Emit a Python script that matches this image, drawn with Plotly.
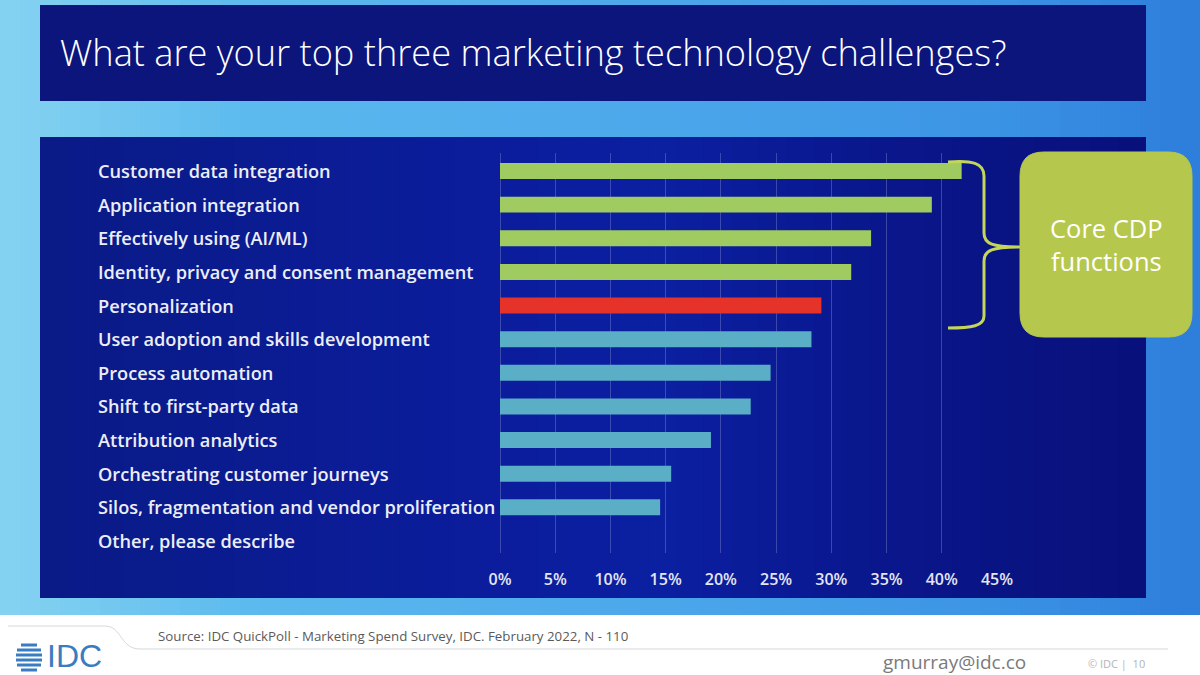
import plotly.graph_objects as go

# ---------------- data ----------------
categories = [
    "Customer data integration",
    "Application integration",
    "Effectively using (AI/ML)",
    "Identity, privacy and consent management",
    "Personalization",
    "User adoption and skills development",
    "Process automation",
    "Shift to first-party data",
    "Attribution analytics",
    "Orchestrating customer journeys",
    "Silos, fragmentation and vendor proliferation",
    "Other, please describe",
]
values = [41.8, 39.1, 33.6, 31.8, 29.1, 28.2, 24.5, 22.7, 19.1, 15.5, 14.5, 0.0]
groups = ["core", "core", "core", "core", "highlight",
          "other", "other", "other", "other", "other", "other", "other"]
tick_values = [0, 5, 10, 15, 20, 25, 30, 35, 40, 45]
tick_labels = ["0%", "5%", "10%", "15%", "20%", "25%", "30%", "35%", "40%", "45%"]

title_text = "What are your top three marketing technology challenges?"
box_text = "Core CDP<br>functions"
source_text = "Source: IDC QuickPoll - Marketing Spend Survey, IDC. February 2022, N - 110"
email_text = "gmurray@idc.co"
page_text = "© IDC |  10"

# ---------------- style ----------------
W, H = 1200, 675
group_colors = {"core": "#9fcb60", "highlight": "#e5332a", "other": "#5aaec6"}
bar_colors = [group_colors[g] for g in groups]


def px(x):
    return x / W


def py(y):
    return 1 - y / H


def path(cmds):
    out = []
    for c in cmds:
        if isinstance(c, str):
            out.append(c)
        else:
            out.append(f"{px(c[0]):.5f},{py(c[1]):.5f}")
    return " ".join(out)


def hexmix(c1, c2, t):
    a = [int(c1[i:i + 2], 16) for i in (1, 3, 5)]
    b = [int(c2[i:i + 2], 16) for i in (1, 3, 5)]
    m = [round(a[k] + (b[k] - a[k]) * t) for k in range(3)]
    return "#%02x%02x%02x" % tuple(m)


shapes = []
# slide background gradient (left light cyan -> right blue)
stops = [(0, "#86d3f1"), (250, "#5cbaee"), (700, "#4aa5ea"), (1000, "#3b93e4"), (1200, "#2d7ddb")]
n = 60
for i in range(n):
    x0 = W * i / n
    x1 = W * (i + 1) / n
    xm = (x0 + x1) / 2
    for j in range(len(stops) - 1):
        if stops[j][0] <= xm <= stops[j + 1][0]:
            t = (xm - stops[j][0]) / (stops[j + 1][0] - stops[j][0])
            col = hexmix(stops[j][1], stops[j + 1][1], t)
    shapes.append(dict(type="rect", xref="paper", yref="paper", x0=px(x0), x1=px(x1 + 1),
                       y0=0, y1=1, fillcolor=col, line_width=0, layer="below"))

# title box
shapes.append(dict(type="rect", xref="paper", yref="paper", x0=px(40), x1=px(1146),
                   y0=py(101), y1=py(5), fillcolor="#0b157c", line_width=0, layer="below"))

# chart panel with subtle horizontal gradient
pstops = [(40, "#0a1a86"), (400, "#0b1c98"), (650, "#0b1fa2"), (900, "#0a168a"), (1146, "#08107a")]
m = 40
for i in range(m):
    x0 = 40 + (1146 - 40) * i / m
    x1 = 40 + (1146 - 40) * (i + 1) / m
    xm = (x0 + x1) / 2
    for j in range(len(pstops) - 1):
        if pstops[j][0] <= xm <= pstops[j + 1][0]:
            t = (xm - pstops[j][0]) / (pstops[j + 1][0] - pstops[j][0])
            col = hexmix(pstops[j][1], pstops[j + 1][1], t)
    shapes.append(dict(type="rect", xref="paper", yref="paper", x0=px(x0), x1=px(min(x1 + 1, 1146)),
                       y0=py(598), y1=py(137), fillcolor=col, line_width=0, layer="below"))

# footer white band
shapes.append(dict(type="rect", xref="paper", yref="paper", x0=0, x1=1,
                   y0=0, y1=py(615), fillcolor="#ffffff", line_width=0, layer="below"))
# footer thin curved line
shapes.append(dict(type="path", xref="paper", yref="paper",
                   path=path(["M", (8, 626), "L", (105, 626), "C", (122, 626), (120, 649), (140, 649),
                              "L", (1168, 649)]),
                   line=dict(color="#d4d8dc", width=1), layer="below"))
# IDC logo stripes (globe)
for (yy, half) in [(645, 8), (650, 12), (655, 13), (660, 13), (665, 12), (670, 8)]:
    shapes.append(dict(type="line", xref="paper", yref="paper",
                       x0=px(29 - half), x1=px(29 + half), y0=py(yy), y1=py(yy),
                       line=dict(color="#3a7cc0", width=3), layer="above"))

# bracket
shapes.append(dict(type="path", xref="paper", yref="paper",
                   path=path(["M", (948, 162), "C", (972, 160), (984, 163), (984, 176),
                              "L", (984, 233), "C", (984, 244), (992, 247), (1022, 247),
                              "C", (992, 247), (984, 250), (984, 261),
                              "L", (984, 316), "C", (984, 326), (972, 328), (948, 328)]),
                   line=dict(color="#c3d65a", width=3), layer="above"))

# green rounded box
bx0, bx1, by0, by1, r = 1020, 1192, 152, 337, 24
shapes.append(dict(type="path", xref="paper", yref="paper",
                   path=path(["M", (bx0 + r, by0), "L", (bx1 - r, by0), "Q", (bx1, by0), (bx1, by0 + r),
                              "L", (bx1, by1 - r), "Q", (bx1, by1), (bx1 - r, by1),
                              "L", (bx0 + r, by1), "Q", (bx0, by1), (bx0, by1 - r),
                              "L", (bx0, by0 + r), "Q", (bx0, by0), (bx0 + r, by0), "Z"]),
                   fillcolor="#b5c84d", line=dict(color="#b5c84d", width=1), layer="above"))

fig = go.Figure()
fig.add_trace(go.Bar(
    x=values, y=categories, orientation="h",
    marker=dict(color=bar_colors, line_width=0),
    width=0.475, hoverinfo="x+y",
))

# axis geometry
x_left, x_right = 500, 997
y_top, y_bot = 153, 553
row_first, row_last = 171, 541
pitch = (row_last - row_first) / (len(categories) - 1)
r_top = -(row_first - y_top) / pitch
r_bot = (len(categories) - 1) + (y_bot - row_last) / pitch

fig.update_xaxes(
    domain=[px(x_left), px(x_right)], range=[0, 45], automargin=False,
    tickvals=tick_values, ticktext=tick_labels,
    showgrid=True, gridcolor="rgba(190,195,230,0.28)", gridwidth=1,
    zeroline=True, zerolinecolor="rgba(190,195,230,0.28)", zerolinewidth=1,
    ticks="outside", ticklen=12, tickcolor="rgba(0,0,0,0)",
    tickfont=dict(family="Open Sans", size=16, color="#e4e6f2", weight=600),
    showline=False, fixedrange=True,
)
fig.update_yaxes(
    domain=[py(y_bot), py(y_top)], automargin=False,
    categoryorder="array", categoryarray=categories,
    range=[r_bot, r_top],
    showticklabels=False, showgrid=False, zeroline=False, showline=False, fixedrange=True,
)

annotations = []
for c in categories:
    annotations.append(dict(xref="paper", yref="y", x=px(96), y=c, text=c, showarrow=False,
                            xanchor="left", yanchor="middle",
                            font=dict(family="Open Sans", size=18.2, color="#eceef6", weight=600)))

annotations += [
    dict(xref="paper", yref="paper", x=px(58), y=py(52), text=title_text, showarrow=False,
         xanchor="left", yanchor="middle",
         font=dict(family="Open Sans", size=36.2, color="#ffffff", weight=300)),
    dict(xref="paper", yref="paper", x=px(1106), y=py(245), text=box_text, showarrow=False,
         xanchor="center", yanchor="middle",
         font=dict(family="Open Sans", size=25.5, color="#ffffff")),
    dict(xref="paper", yref="paper", x=px(156), y=py(636), text=source_text, showarrow=False,
         xanchor="left", yanchor="middle",
         font=dict(family="Open Sans", size=13.3, color="#5a5a5a")),
    dict(xref="paper", yref="paper", x=px(45), y=py(656), text="IDC", showarrow=False,
         xanchor="left", yanchor="middle",
         font=dict(family="Liberation Sans", size=32, color="#3a7cc0")),
    dict(xref="paper", yref="paper", x=px(881), y=py(662), text=email_text, showarrow=False,
         xanchor="left", yanchor="middle",
         font=dict(family="Open Sans", size=19, color="#7a7a7a")),
    dict(xref="paper", yref="paper", x=px(1086), y=py(663), text=page_text, showarrow=False,
         xanchor="left", yanchor="middle",
         font=dict(family="Open Sans", size=11, color="#b4b4b4")),
]

fig.update_layout(
    width=W, height=H, margin=dict(l=0, r=0, t=0, b=0, pad=0, autoexpand=False),
    paper_bgcolor="#5ab8ee", plot_bgcolor="rgba(0,0,0,0)",
    showlegend=False, shapes=shapes, annotations=annotations,
    bargap=0.5,
)

fig.write_html("out.html", config={"displayModeBar": False},
               post_script="document.body.style.margin='0';document.body.style.overflow='hidden';")
